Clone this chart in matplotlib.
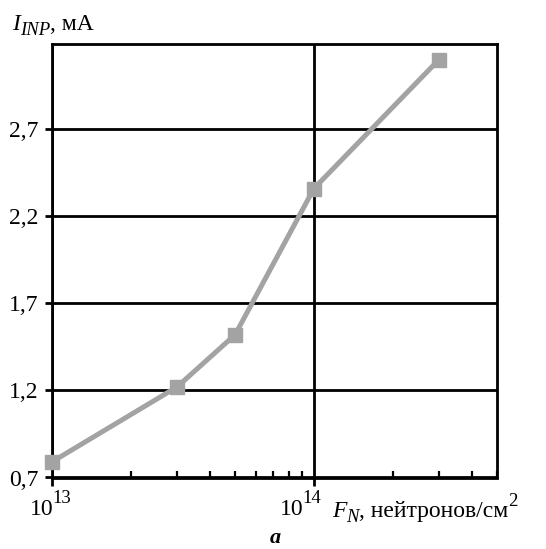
import matplotlib
matplotlib.use("Agg")
import matplotlib.pyplot as plt
from matplotlib.ticker import FixedLocator, LogLocator, NullFormatter

plt.rcParams["font.family"] = ["Liberation Serif", "DejaVu Serif"]

# Neutron fluence (neutrons/cm^2) and input current (mA)
fluence = [1e13, 3e13, 5e13, 1e14, 3e14]
current = [0.79, 1.22, 1.52, 2.36, 3.10]

y_ticks = [0.7, 1.2, 1.7, 2.2, 2.7]
y_tick_labels = ["0,7", "1,2", "1,7", "2,2", "2,7"]
x_ticks = [1e13, 1e14]
x_tick_exponents = ["13", "14"]
x_label_shift = [1, -11]  # px nudge of each decade label

W, H = 546, 549
fig = plt.figure(figsize=(W / 100, H / 100), dpi=100)
ax = fig.add_axes([52 / W, 1 - 477.5 / H, 445 / W, 433.5 / H])

ax.plot(fluence, current, color="#a3a3a3", lw=3.6, marker="s", ms=9.5,
        mec="#a3a3a3", mfc="#a3a3a3", zorder=3, clip_on=False)

ax.set_xscale("log")
ax.set_xlim(1e13, 5e14)
ax.set_ylim(0.7, 3.19)

ax.xaxis.set_major_locator(FixedLocator(x_ticks))
ax.xaxis.set_minor_locator(LogLocator(base=10, subs=range(2, 10)))
ax.xaxis.set_minor_formatter(NullFormatter())
ax.set_xticklabels([])
ax.set_yticks(y_ticks)
ax.set_yticklabels(y_tick_labels)

for s in ax.spines.values():
    s.set_linewidth(2.0)
    s.set_color("black")

ax.tick_params(axis="x", which="major", direction="out", length=5.5,
               width=2.0, top=False)
ax.tick_params(axis="x", which="minor", direction="in", length=5,
               width=1.6, top=False)
ax.tick_params(axis="y", which="major", direction="out", length=5,
               width=2.0, labelsize=17, pad=5, right=False)

ax.grid(True, which="major", axis="both", color="black", lw=2.0)
ax.set_axisbelow(True)

renderer = fig.canvas.get_renderer()


def px_text(x, y, s, **kw):
    """Place text at pixel coords measured from the top-left corner."""
    return fig.text(x / W, 1 - y / H, s, va="baseline", **kw)


def chain(x, y, parts):
    """Write consecutive pieces (text, size, style, dy, dx) on one baseline."""
    for s, size, style, dy, dx in parts:
        x += dx
        t = px_text(x, y + dy, s, fontsize=size, fontstyle=style, ha="left")
        x += t.get_window_extent(renderer).width


# decade labels under the x axis, placed from the axis scale
for xv, exp, dx in zip(x_ticks, x_tick_exponents, x_label_shift):
    xpix = ax.transData.transform((xv, 0.7))[0] + dx
    px_text(xpix + 1, 515, "10", fontsize=17, ha="right")
    px_text(xpix - 1, 503, exp, fontsize=13.5, ha="left")

chain(12, 30, [("I", 17, "italic", 0, 0), ("INP", 13.5, "italic", 5, 0),
               (", мА", 17, "normal", 0, 0)])
chain(332, 517, [("F", 17, "italic", 0, 0), ("N", 13.5, "italic", 5, 0),
                 (", нейтронов/см", 17, "normal", 0, 0),
                 ("2", 13.5, "normal", -11, 0)])

px_text(275, 543, "a", fontsize=16, fontweight="bold", fontstyle="italic",
        ha="center")

fig.savefig("out.png", dpi=100)
